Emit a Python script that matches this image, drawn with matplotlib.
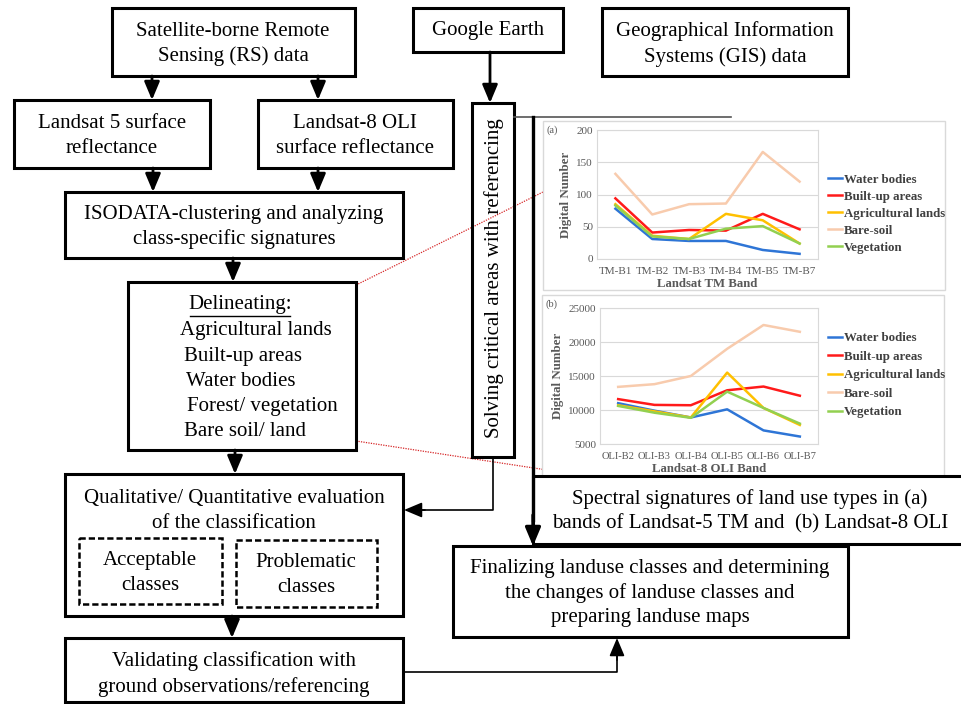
import matplotlib
matplotlib.use('Agg')
import matplotlib.pyplot as plt
from matplotlib.patches import Rectangle
import numpy as np

plt.rcParams['font.family'] = ['Liberation Serif', 'DejaVu Serif']

# spectral signature data
tm_bands = ['TM-B1', 'TM-B2', 'TM-B3', 'TM-B4', 'TM-B5', 'TM-B7']
tm_water = [78, 31, 28, 28, 14, 8]
tm_built = [94, 41, 45, 44, 70, 46]
tm_agri = [85, 36, 31, 70, 60, 24]
tm_bare = [132, 69, 85, 86, 166, 120]
tm_veg = [83, 35, 31, 47, 51, 24]

oli_bands = ['OLI-B2', 'OLI-B3', 'OLI-B4', 'OLI-B5', 'OLI-B6', 'OLI-B7']
oli_water = [11000, 9900, 8900, 10100, 7000, 6100]
oli_built = [11600, 10750, 10700, 12900, 13450, 12100]
oli_agri = [10700, 9800, 8900, 15500, 10300, 7800]
oli_bare = [13400, 13800, 15000, 19000, 22500, 21500]
oli_veg = [10600, 9600, 8850, 12700, 10300, 8000]

classes = ['Water bodies', 'Built-up areas', 'Agricultural lands', 'Bare-soil', 'Vegetation']
colors = ['#2e75d6', '#ff1a1a', '#ffc000', '#f8cbad', '#92d050']

W, H = 962, 704
fig = plt.figure(figsize=(W / 100, H / 100), dpi=100)
ax = fig.add_axes([0, 0, 1, 1])
ax.set_xlim(0, W)
ax.set_ylim(H, 0)
ax.axis('off')

FS = 15


def box(x0, y0, x1, y1, lw=2.2, ls='-', color='black', z=2):
    ax.add_patch(Rectangle((x0, y0), x1 - x0, y1 - y0, fill=False, lw=lw,
                           ls=ls, edgecolor=color, zorder=z))


def label(x, y, s, **kw):
    ax.text(x, y + 2, s, ha='center', va='center', fontsize=FS,
            linespacing=1.38, zorder=3, **kw)


def arrow(x0, y0, x1, y1, lw=2.0):
    ax.annotate('', xy=(x1, y1), xytext=(x0, y0),
                arrowprops=dict(arrowstyle='-|>,head_length=1.0,head_width=0.42',
                                color='black', lw=lw, shrinkA=0, shrinkB=0,
                                mutation_scale=11), zorder=4)


# boxes on the left
box(112, 8, 355, 76)
label(233, 42, 'Satellite-borne Remote\nSensing (RS) data')
box(14, 100, 210, 168)
label(112, 134, 'Landsat 5 surface\nreflectance')
box(258, 100, 453, 168)
label(355, 134, 'Landsat-8 OLI\nsurface reflectance')
box(65, 192, 403, 258)
label(234, 225, 'ISODATA-clustering and analyzing\nclass-specific signatures')
box(128, 282, 356, 450)
ax.text(240, 305, 'Delineating:', ha='center', va='center', fontsize=FS, zorder=3)
ax.plot([190, 290], [316, 316], color='black', lw=1)
delin = [('Agricultural lands', 180, 331), ('Built-up areas', 184, 356),
         ('Water bodies', 186, 381), ('Forest/ vegetation', 187, 406),
         ('Bare soil/ land', 184, 431)]
for s, x, y in delin:
    ax.text(x, y, s, ha='left', va='center', fontsize=FS, zorder=3)

box(65, 474, 403, 616)
label(234, 509, 'Qualitative/ Quantitative evaluation\nof the classification')
box(79, 538, 222, 604, lw=1.8, ls=(0, (2.5, 1.2)))
label(150, 571, 'Acceptable\nclasses')
box(236, 540, 377, 607, lw=1.8, ls=(0, (2.5, 1.2)))
label(306, 573, 'Problematic\nclasses')
box(65, 638, 403, 702)
label(234, 672, 'Validating classification with\nground observations/referencing')

# boxes on the right
box(413, 8, 563, 52)
label(488, 29, 'Google Earth')
box(602, 8, 848, 76)
label(725, 42, 'Geographical Information\nSystems (GIS) data')
box(472, 103, 514, 457)
ax.text(494, 278, 'Solving critical areas with referencing', rotation=90,
        ha='center', va='center', fontsize=FS, zorder=3)
box(533, 476, 964, 544)
label(750, 509, 'Spectral signatures of land use types in (a)\nbands of Landsat-5 TM and  (b) Landsat-8 OLI')
box(453, 546, 848, 637)
label(650, 591, 'Finalizing landuse classes and determining\nthe changes of landuse classes and\npreparing landuse maps')

# arrows
arrow(152, 76, 152, 100)
arrow(318, 76, 318, 100)
arrow(153, 168, 153, 192)
arrow(318, 168, 318, 192)
arrow(233, 258, 233, 282)
arrow(235, 450, 235, 474)
arrow(232, 616, 232, 638)
arrow(490, 52, 490, 103)
ax.plot([493, 493, 420], [457, 510, 510], color='black', lw=1.2, zorder=2)
arrow(425, 510, 404, 510, lw=1.2)
ax.plot([403, 617, 617], [672, 672, 655], color='black', lw=1.2, zorder=2)
arrow(617, 660, 617, 638, lw=1.2)
ax.plot([514, 731], [117, 117], color='#555555', lw=1.2, zorder=2)
ax.plot([533, 533], [117, 520], color='black', lw=2.4, zorder=2)
arrow(533, 515, 533, 546, lw=2.4)

# red dotted zoom lines
ax.plot([356, 545], [285, 191], color='#d62728', lw=0.9, ls=(0, (1, 1)), zorder=1)
ax.plot([356, 547], [441, 470], color='#d62728', lw=0.9, ls=(0, (1, 1)), zorder=1)

# chart panels
ax.add_patch(Rectangle((543, 121), 402, 169, facecolor='white',
                       edgecolor='#d9d9d9', lw=1, zorder=1))
ax.add_patch(Rectangle((542, 295), 402, 181, facecolor='white',
                       edgecolor='#d9d9d9', lw=1, zorder=1))
ax.text(547, 130, '(a)', fontsize=7.5, color='#595959', va='center', zorder=3)
ax.text(546, 304, '(b)', fontsize=7.5, color='#595959', va='center', zorder=3)


def pix_axes(x0, y0, x1, y1):
    return fig.add_axes([x0 / W, 1 - y1 / H, (x1 - x0) / W, (y1 - y0) / H])


def spectral(axc, bands, series, ylim, yticks, xlabel, leg_y, spacing, xsize):
    x = np.arange(len(bands))
    for vals, name, c in zip(series, classes, colors):
        axc.plot(x, vals, color=c, lw=1.8, label=name)
    axc.set_xlim(-0.5, len(bands) - 0.5)
    axc.set_ylim(*ylim)
    axc.set_yticks(yticks)
    axc.set_xticks(x)
    axc.set_xticklabels(bands)
    axc.tick_params(length=0, labelsize=8, labelcolor='#595959', pad=3)
    axc.tick_params(axis='x', labelsize=xsize, pad=6)
    axc.grid(axis='y', color='#d9d9d9', lw=0.8)
    axc.set_axisbelow(True)
    for sp in axc.spines.values():
        sp.set_color('#d9d9d9')
        sp.set_linewidth(0.8)
    axc.set_ylabel('Digital Number', fontsize=9.3, fontweight='bold', color='#595959', labelpad=3)
    axc.set_xlabel(xlabel, fontsize=9.2, fontweight='bold', color='#595959', labelpad=1)
    axc.legend(loc='upper left', bbox_to_anchor=(1.02, leg_y), frameon=False,
               prop={'size': 9.3, 'weight': 'bold'}, labelcolor='#404040',
               handlelength=1.1, handletextpad=0.15, labelspacing=spacing, borderaxespad=0)


ax_a = pix_axes(597, 130, 818, 259)
spectral(ax_a, tm_bands, [tm_water, tm_built, tm_agri, tm_bare, tm_veg],
         (0, 200), [0, 50, 100, 150, 200], 'Landsat TM Band', 0.70, 0.38, 8)

ax_b = pix_axes(600, 308, 818, 444)
spectral(ax_b, oli_bands, [oli_water, oli_built, oli_agri, oli_bare, oli_veg],
         (5000, 25000), [5000, 10000, 15000, 20000, 25000], 'Landsat-8 OLI Band', 0.86, 0.5, 7.6)

fig.savefig('out.png', dpi=100)
